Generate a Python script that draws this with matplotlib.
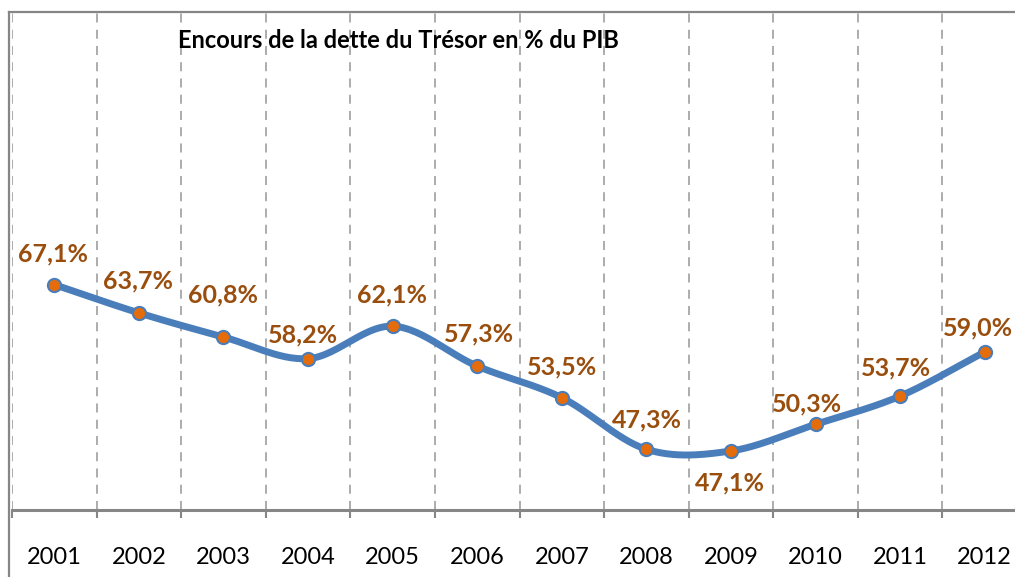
import numpy as np
import matplotlib
matplotlib.use("Agg")
import matplotlib.pyplot as plt
from matplotlib.lines import Line2D

years = ["2001", "2002", "2003", "2004", "2005", "2006",
         "2007", "2008", "2009", "2010", "2011", "2012"]
dette = [67.1, 63.7, 60.8, 58.2, 62.1, 57.3, 53.5, 47.3, 47.1, 50.3, 53.7, 59.0]
labels = ["67,1%", "63,7%", "60,8%", "58,2%", "62,1%", "57,3%",
          "53,5%", "47,3%", "47,1%", "50,3%", "53,7%", "59,0%"]

# label baseline offsets from the point, in pixels (dx, dy up)
label_dx = [-1, -1, 0, -5, -1, 2, 0, 1, -1, -9, -4, -7]
label_dy = [23, 24, 35, 16, 24, 25, 23, 22, -39, 13, 21, 17]

title = "Encours de la dette du Trésor en % du PIB"


def smooth_curve(x, y, n=30):
    # excel-like smoothed line (catmull-rom segments through the points)
    x = np.asarray(x, float)
    y = np.asarray(y, float)
    px = np.concatenate([[2 * x[0] - x[1]], x, [2 * x[-1] - x[-2]]])
    py = np.concatenate([[2 * y[0] - y[1]], y, [2 * y[-1] - y[-2]]])
    out_x, out_y = [], []
    t = np.linspace(0, 1, n)
    for i in range(1, len(px) - 2):
        for p, out in ((px, out_x), (py, out_y)):
            p0, p1, p2, p3 = p[i - 1], p[i], p[i + 1], p[i + 2]
            c1 = p1 + (p2 - p0) / 6
            c2 = p2 - (p3 - p1) / 6
            b = ((1 - t) ** 3 * p1 + 3 * (1 - t) ** 2 * t * c1
                 + 3 * (1 - t) * t ** 2 * c2 + t ** 3 * p2)
            out.extend(b)
    return np.array(out_x), np.array(out_y)


plt.rcParams['font.family'] = ['Lato', 'DejaVu Sans']

W, H = 1015, 577
fig = plt.figure(figsize=(W / 100, H / 100), dpi=100)
ax = fig.add_axes([12 / W, 67 / H, 1015 / W, 499 / H])

x = np.arange(len(years))
sx, sy = smooth_curve(x, dette)
ax.plot(sx, sy, color="#4A7EBB", lw=5, solid_capstyle="round", zorder=3)
ax.plot(x, dette, "o", ms=9.5, mfc="#E46C0A", mec="#4A7EBB", mew=1.5, zorder=4)

px2pt = 0.72
for xi, v, lab, dx, dy in zip(x, dette, labels, label_dx, label_dy):
    ax.annotate(lab, (xi, v), xytext=(dx * px2pt, dy * px2pt), textcoords="offset points",
                ha="center", va="baseline", fontsize=18, fontweight="bold",
                color="#9A4E0E", zorder=5)

ax.set_xlim(-0.5, len(years) - 0.5)
ax.set_ylim(40, 100)
ax.set_yticks([])
ax.set_xticks(x)
ax.set_xticklabels(years, fontsize=17)
ax.set_xticks(np.arange(-0.5, len(years)), minor=True)
ax.tick_params(axis="x", which="major", length=0, pad=26.5)
ax.tick_params(axis="x", which="minor", length=6, width=1.5, color="#868686")
ax.grid(True, which="minor", axis="x", color="#A6A6A6", linestyle=(0, (5, 4)), lw=1.3)

for side in ["top", "right", "left"]:
    ax.spines[side].set_visible(False)
ax.spines["bottom"].set_color("#868686")
ax.spines["bottom"].set_linewidth(2.2)

ax.text(1.46, 96.4, title, fontsize=17, fontweight="bold", color="black",
        ha="left", va="center")

# outer chart frame (cropped)
fig.add_artist(Line2D([9 / W, 9 / W], [0, 1 - 12 / H], transform=fig.transFigure,
                      color="#868686", lw=1.6))
fig.add_artist(Line2D([9 / W, 1], [1 - 12 / H, 1 - 12 / H], transform=fig.transFigure,
                      color="#868686", lw=1.6))

fig.savefig("out.png", dpi=100)
